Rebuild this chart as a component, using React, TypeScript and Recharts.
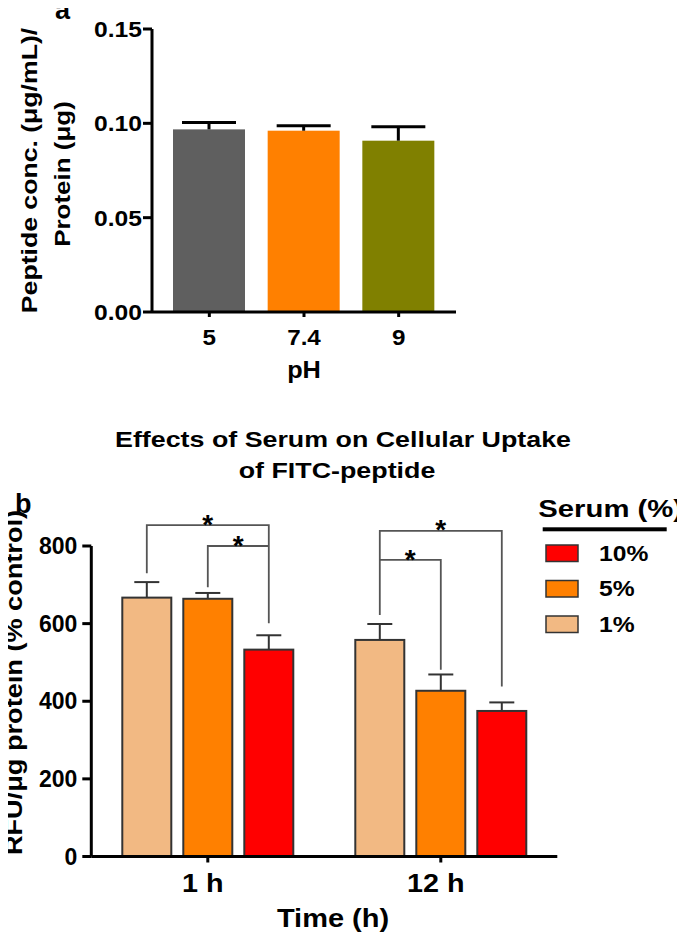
import { BarChart, Bar, XAxis, YAxis } from 'recharts';

// panel a: uptake vs pH
const phLabels = ['5', '7.4', '9'];
const uptake = [0.0968, 0.0961, 0.0908];
const uptakeErr = [0.0037, 0.0026, 0.0074];
const phColors = ['#5f5f5f', '#ff8000', '#808000'];
const uptakeTicks = [0, 0.05, 0.1, 0.15];

// panel b: serum effect
const times = ['1 h', '12 h'];
const serum1 = [667, 558];
const serum1Err = [40, 41];
const serum5 = [664, 427];
const serum5Err = [15, 42];
const serum10 = [533, 375];
const serum10Err = [37, 22];
const rfuTicks = [0, 200, 400, 600, 800];

// significance brackets (bar index 0=1%, 1=5%, 2=10%, levels in RFU units)
const bracketTime = ['1 h', '1 h', '12 h', '12 h'];
const bracketFrom = [0, 1, 0, 0];
const bracketTo = [2, 2, 2, 1];
const bracketLevel = [854, 800, 839, 764];
const bracketFromEnd = [730, 694, 622, 764];
const bracketToEnd = [601, 800, 438, 481];

const FONT = '"Liberation Sans", Arial, Helvetica, sans-serif';
const BAR_GAP = 12;

const dataA = phLabels.map((ph, i) => ({ ph, value: uptake[i], err: uptakeErr[i], color: phColors[i] }));
const dataB = times.map((time, i) => ({
  time,
  p1: serum1[i], e1: serum1Err[i],
  p5: serum5[i], e5: serum5Err[i],
  p10: serum10[i], e10: serum10Err[i],
}));

const serumSeries = [
  { key: 'p10', err: 'e10', name: '10%', color: '#ff0000' },
  { key: 'p5', err: 'e5', name: '5%', color: '#ff8000' },
  { key: 'p1', err: 'e1', name: '1%', color: '#f2b983' },
];

function Txt({ x, y, size, sx = 1, anchor = 'start', rotate = 0, children }: any) {
  return (
    <text
      transform={`translate(${x},${y}) rotate(${rotate}) scale(${sx},1)`}
      fontSize={size}
      fontWeight="bold"
      fontFamily={FONT}
      textAnchor={anchor}
      fill="#000"
    >
      {children}
    </text>
  );
}

// bar with upward-only error bar (panel a)
const BarA = (props: any) => {
  const { x, y, width, height, payload } = props;
  const ppu = height / payload.value;
  const top = y - payload.err * ppu;
  const cx = x + width / 2;
  return (
    <g>
      <rect x={x} y={y} width={width} height={height} fill={payload.color} />
      <line x1={cx} x2={cx} y1={y} y2={top} stroke="#000" strokeWidth={3} />
      <line x1={cx - 27} x2={cx + 27} y1={top} y2={top} stroke="#000" strokeWidth={3} />
    </g>
  );
};

// bar for panel b, the last series also draws the brackets
const makeBarB = (errKey: string, color: string, lastIndex: number | null) => (props: any) => {
  const { x, y, width, height, payload } = props;
  const value = payload[errKey.replace('e', 'p')];
  const ppu = height / value;
  const base = y + height;
  const yOf = (v: number) => base - v * ppu;
  const top = y - payload[errKey] * ppu;
  const cx = x + width / 2;
  const center = (k: number) => cx - ((lastIndex ?? 0) - k) * (width + BAR_GAP);
  const brackets: any[] = [];
  if (lastIndex !== null) {
    bracketTime.forEach((t, i) => {
      if (t !== payload.time) return;
      const x1 = center(bracketFrom[i]);
      const x2 = center(bracketTo[i]);
      const ly = yOf(bracketLevel[i]);
      brackets.push(
        <g key={i}>
          <polyline
            points={`${x1},${yOf(bracketFromEnd[i])} ${x1},${ly} ${x2},${ly} ${x2},${yOf(bracketToEnd[i])}`}
            fill="none"
            stroke="#555"
            strokeWidth={1.8}
          />
          <text x={(x1 + x2) / 2} y={ly + 8.6} fontSize={28} fontWeight="bold" fontFamily={FONT} textAnchor="middle" fill="#000">*</text>
        </g>
      );
    });
  }
  return (
    <g>
      <rect x={x} y={y} width={width} height={height} fill={color} stroke="#333" strokeWidth={2} />
      <line x1={cx} x2={cx} y1={y} y2={top} stroke="#333" strokeWidth={2} />
      <line x1={cx - 12.5} x2={cx + 12.5} y1={top} y2={top} stroke="#333" strokeWidth={2} />
      {brackets}
    </g>
  );
};

const axisStyle = { stroke: '#000', strokeWidth: 3 };

export default function App() {
  return (
    <div style={{ position: 'relative', width: 685, height: 941, margin: -8, background: '#fff' }}>
      {/* panel a */}
      <div style={{ position: 'absolute', left: 0, top: 0 }}>
        <BarChart width={685} height={400} data={dataA} margin={{ top: 29, left: 92, right: 229, bottom: 58 }}>
          <XAxis
            dataKey="ph"
            padding={{ left: 10, right: 10 }}
            height={30}
            axisLine={axisStyle}
            tickLine={axisStyle}
            tickSize={5}
            tickMargin={0}
            tick={(p: any) => (
              <Txt x={p.x} y={p.y + 28} size={22} sx={1.1} anchor="middle">{p.payload.value}</Txt>
            )}
          />
          <YAxis
            width={60}
            domain={[0, 0.15]}
            ticks={uptakeTicks}
            axisLine={axisStyle}
            tickLine={axisStyle}
            tickSize={9}
            tickMargin={1}
            tick={(p: any) => (
              <Txt x={p.x} y={p.y + 8} size={22} sx={1.12} anchor="end">{Number(p.payload.value).toFixed(2)}</Txt>
            )}
          />
          <Bar dataKey="value" barSize={72} shape={BarA} isAnimationActive={false} />
        </BarChart>
      </div>

      {/* panel b */}
      <div style={{ position: 'absolute', left: 0, top: 380 }}>
        <BarChart width={685} height={561} data={dataB} barGap={BAR_GAP} margin={{ top: 166, left: 31.3, right: 127.7, bottom: 54.5 }}>
          <XAxis
            dataKey="time"
            height={30}
            axisLine={axisStyle}
            tickLine={axisStyle}
            tickSize={6}
            tickMargin={0}
            tick={(p: any) => (
              <Txt x={p.x - 5} y={p.y + 29} size={25} sx={1.15} anchor="middle">{p.payload.value}</Txt>
            )}
          />
          <YAxis
            width={60}
            domain={[0, 800]}
            ticks={rfuTicks}
            axisLine={axisStyle}
            tickLine={axisStyle}
            tickSize={9}
            tickMargin={5}
            tick={(p: any) => (
              <Txt x={p.x} y={p.y + 8} size={23} anchor="end">{p.payload.value}</Txt>
            )}
          />
          <Bar dataKey="p1" barSize={49} shape={makeBarB('e1', '#f2b983', null)} isAnimationActive={false} />
          <Bar dataKey="p5" barSize={49} shape={makeBarB('e5', '#ff8000', null)} isAnimationActive={false} />
          <Bar dataKey="p10" barSize={49} shape={makeBarB('e10', '#ff0000', 2)} isAnimationActive={false} />
        </BarChart>
      </div>

      {/* labels, titles, legend */}
      <svg width={685} height={941} style={{ position: 'absolute', left: 0, top: 0, pointerEvents: 'none' }}>
        <Txt x={55} y={19} size={27}>a</Txt>
        <Txt x={37} y={170.5} size={22} sx={1.21} anchor="middle" rotate={-90}>Peptide conc. (μg/mL)/</Txt>
        <Txt x={70} y={174} size={22} sx={1.18} anchor="middle" rotate={-90}>Protein (μg)</Txt>
        <Txt x={304} y={378} size={23} sx={1.1} anchor="middle">pH</Txt>

        <Txt x={343} y={446.7} size={22} sx={1.22} anchor="middle">Effects of Serum on Cellular Uptake</Txt>
        <Txt x={337} y={478.3} size={22} sx={1.22} anchor="middle">of FITC-peptide</Txt>
        <Txt x={15} y={513} size={27}>b</Txt>
        <Txt x={22} y={682.5} size={23} sx={1.18} anchor="middle" rotate={-90}>RFU/μg protein (% control)</Txt>
        <Txt x={333} y={926.7} size={25} sx={1.16} anchor="middle">Time (h)</Txt>

        <Txt x={538.3} y={517.3} size={24} sx={1.22}>Serum (%)</Txt>
        <rect x={542.7} y={527.3} width={124} height={4} fill="#000" />
        {serumSeries.map((s, i) => (
          <g key={s.key}>
            <rect x={546} y={545 + i * 35.5} width={32} height={16.5} fill={s.color} stroke="#333" strokeWidth={1.5} />
            <Txt x={599} y={561 + i * 35.4} size={22} sx={1.12}>{s.name}</Txt>
          </g>
        ))}
      </svg>
    </div>
  );
}
